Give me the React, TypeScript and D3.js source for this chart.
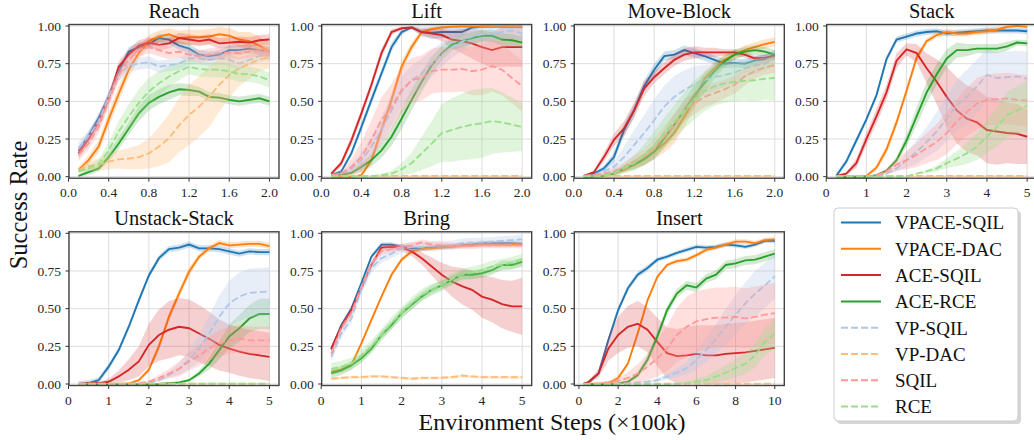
import * as d3 from 'd3';
import React from 'react';

// methods, in legend order
const methods = ['VPACE-SQIL', 'VPACE-DAC', 'ACE-SQIL', 'ACE-RCE', 'VP-SQIL', 'VP-DAC', 'SQIL', 'RCE'];
const lineColors = ['#1f77b4', '#ff7f0e', '#d62728', '#2ca02c', '#aec7e8', '#ffbb78', '#ff9896', '#98df8a'];
const dashed = [false, false, false, false, true, true, true, true];

// env steps (x100k)
const stepsShort = [0.1, 0.2, 0.3, 0.4, 0.5, 0.6, 0.7, 0.8, 0.9, 1.0, 1.1, 1.2, 1.3, 1.4, 1.5, 1.6, 1.7, 1.8, 1.9, 2.0];
const stepsMid = [0.25, 0.5, 0.75, 1, 1.25, 1.5, 1.75, 2, 2.25, 2.5, 2.75, 3, 3.25, 3.5, 3.75, 4, 4.25, 4.5, 4.75, 5];
const stepsLong = [0.25, 0.5, 1, 1.5, 2, 2.5, 3, 3.5, 4, 4.5, 5, 5.5, 6, 6.5, 7, 7.5, 8, 8.5, 9, 9.5, 10];

// mean success rate, one row per method
const reachMean = [
  [0.17, 0.27, 0.39, 0.53, 0.70, 0.83, 0.86, 0.88, 0.92, 0.91, 0.87, 0.85, 0.81, 0.80, 0.81, 0.84, 0.84, 0.85, 0.84, 0.83],
  [0.045, 0.11, 0.20, 0.38, 0.55, 0.71, 0.82, 0.90, 0.93, 0.945, 0.92, 0.925, 0.925, 0.93, 0.945, 0.935, 0.91, 0.90, 0.87, 0.83],
  [0.155, 0.25, 0.365, 0.52, 0.73, 0.81, 0.87, 0.89, 0.875, 0.885, 0.92, 0.91, 0.90, 0.91, 0.885, 0.89, 0.895, 0.89, 0.905, 0.91],
  [0.005, 0.03, 0.055, 0.13, 0.22, 0.32, 0.42, 0.49, 0.53, 0.56, 0.58, 0.575, 0.565, 0.53, 0.525, 0.51, 0.50, 0.51, 0.52, 0.50],
  [0.19, 0.27, 0.365, 0.53, 0.675, 0.74, 0.75, 0.76, 0.73, 0.74, 0.75, 0.785, 0.785, 0.775, 0.785, 0.775, 0.75, 0.775, 0.80, 0.81],
  [0.045, 0.07, 0.08, 0.10, 0.115, 0.12, 0.13, 0.155, 0.20, 0.255, 0.34, 0.41, 0.465, 0.53, 0.61, 0.675, 0.72, 0.75, 0.78, 0.79],
  [0.145, 0.22, 0.33, 0.50, 0.675, 0.775, 0.84, 0.86, 0.84, 0.82, 0.83, 0.81, 0.80, 0.81, 0.82, 0.825, 0.82, 0.83, 0.84, 0.83],
  [0.035, 0.055, 0.085, 0.175, 0.30, 0.40, 0.49, 0.565, 0.62, 0.665, 0.70, 0.73, 0.715, 0.71, 0.71, 0.70, 0.68, 0.68, 0.665, 0.64],
];
const reachSpread = [
  0.03,
  [0.02, 0.03, 0.04, 0.05, 0.05, 0.05, 0.04, 0.04, 0.04, 0.04, 0.05, 0.05, 0.05, 0.05, 0.05, 0.05, 0.05, 0.06, 0.06, 0.06],
  0.035,
  [0.01, 0.02, 0.02, 0.03, 0.04, 0.04, 0.05, 0.05, 0.05, 0.05, 0.04, 0.04, 0.03, 0.03, 0.03, 0.03, 0.03, 0.03, 0.03, 0.03],
  0.04,
  [0.02, 0.03, 0.04, 0.05, 0.06, 0.07, 0.08, 0.1, 0.13, 0.16, 0.18, 0.2, 0.2, 0.2, 0.18, 0.15, 0.12, 0.1, 0.08, 0.07],
  0.04,
  [0.01, 0.02, 0.03, 0.05, 0.07, 0.08, 0.09, 0.09, 0.08, 0.07, 0.06, 0.05, 0.05, 0.05, 0.05, 0.05, 0.05, 0.05, 0.05, 0.05],
];

const liftMean = [
  [0.01, 0.035, 0.155, 0.33, 0.51, 0.685, 0.86, 0.96, 0.99, 0.96, 0.955, 0.96, 0.96, 0.96, 0.99, 0.995, 0.995, 0.995, 0.995, 0.995],
  [0, 0, 0, 0.01, 0.11, 0.31, 0.51, 0.73, 0.86, 0.96, 0.98, 0.99, 0.995, 0.997, 0.997, 0.997, 0.997, 0.997, 0.997, 0.997],
  [0.02, 0.09, 0.24, 0.42, 0.61, 0.82, 0.96, 0.985, 0.99, 0.96, 0.95, 0.94, 0.91, 0.90, 0.885, 0.86, 0.84, 0.86, 0.86, 0.86],
  [0.01, 0.015, 0.025, 0.065, 0.11, 0.175, 0.265, 0.385, 0.51, 0.63, 0.74, 0.82, 0.875, 0.90, 0.92, 0.935, 0.935, 0.91, 0.905, 0.89],
  [0.005, 0.02, 0.055, 0.11, 0.20, 0.31, 0.44, 0.565, 0.64, 0.685, 0.75, 0.81, 0.86, 0.895, 0.93, 0.945, 0.95, 0.96, 0.97, 0.95],
  [0.005, 0.005, 0.005, 0.005, 0.005, 0.005, 0.005, 0.005, 0.005, 0.005, 0.005, 0.005, 0.005, 0.005, 0.005, 0.005, 0.005, 0.005, 0.005, 0.005],
  [0.01, 0.02, 0.065, 0.13, 0.245, 0.375, 0.465, 0.575, 0.64, 0.655, 0.70, 0.71, 0.71, 0.715, 0.70, 0.71, 0.735, 0.71, 0.655, 0.60],
  [0, 0, 0, 0, 0.003, 0.01, 0.02, 0.05, 0.09, 0.155, 0.22, 0.29, 0.31, 0.33, 0.345, 0.355, 0.37, 0.36, 0.345, 0.33],
];
const liftSpread = [
  [0.01, 0.01, 0.02, 0.03, 0.03, 0.03, 0.03, 0.02, 0.01, 0.03, 0.04, 0.04, 0.04, 0.03, 0.01, 0.01, 0.01, 0.01, 0.01, 0.01],
  [0, 0, 0.005, 0.01, 0.03, 0.04, 0.04, 0.04, 0.03, 0.02, 0.01, 0.01, 0.005, 0.005, 0.005, 0.005, 0.005, 0.005, 0.005, 0.005],
  [0.01, 0.02, 0.03, 0.03, 0.03, 0.03, 0.02, 0.01, 0.01, 0.02, 0.03, 0.04, 0.06, 0.08, 0.1, 0.11, 0.12, 0.13, 0.13, 0.13],
  [0.005, 0.01, 0.02, 0.03, 0.04, 0.05, 0.06, 0.07, 0.07, 0.07, 0.06, 0.05, 0.04, 0.04, 0.04, 0.04, 0.04, 0.04, 0.04, 0.04],
  [0.005, 0.01, 0.03, 0.05, 0.07, 0.09, 0.1, 0.1, 0.1, 0.1, 0.09, 0.08, 0.07, 0.06, 0.05, 0.05, 0.05, 0.05, 0.05, 0.05],
  0.005,
  [0.01, 0.02, 0.05, 0.1, 0.13, 0.15, 0.15, 0.15, 0.15, 0.15, 0.15, 0.15, 0.15, 0.15, 0.16, 0.17, 0.17, 0.17, 0.17, 0.17],
  [0, 0, 0, 0, 0.005, 0.01, 0.02, 0.04, 0.07, 0.11, 0.15, 0.19, 0.21, 0.22, 0.23, 0.23, 0.22, 0.2, 0.18, 0.16],
];

const moveMean = [
  [0.005, 0.02, 0.055, 0.13, 0.31, 0.44, 0.60, 0.71, 0.80, 0.81, 0.84, 0.82, 0.80, 0.775, 0.75, 0.755, 0.75, 0.77, 0.78, 0.81],
  [0, 0.003, 0.005, 0.02, 0.045, 0.08, 0.12, 0.165, 0.22, 0.29, 0.40, 0.51, 0.65, 0.72, 0.775, 0.81, 0.84, 0.86, 0.88, 0.895],
  [0.005, 0.03, 0.13, 0.245, 0.32, 0.44, 0.585, 0.66, 0.72, 0.775, 0.81, 0.825, 0.825, 0.825, 0.825, 0.825, 0.81, 0.785, 0.79, 0.80],
  [0, 0.003, 0.005, 0.02, 0.055, 0.08, 0.115, 0.165, 0.255, 0.345, 0.44, 0.54, 0.62, 0.70, 0.765, 0.81, 0.83, 0.84, 0.83, 0.81],
  [0.005, 0.01, 0.035, 0.065, 0.13, 0.21, 0.29, 0.375, 0.465, 0.53, 0.575, 0.615, 0.64, 0.66, 0.675, 0.69, 0.72, 0.735, 0.75, 0.785],
  [0.005, 0.005, 0.005, 0.005, 0.005, 0.005, 0.005, 0.005, 0.005, 0.005, 0.005, 0.005, 0.005, 0.005, 0.005, 0.005, 0.005, 0.005, 0.005, 0.005],
  [0.005, 0.01, 0.02, 0.035, 0.065, 0.10, 0.13, 0.19, 0.265, 0.345, 0.44, 0.485, 0.53, 0.555, 0.58, 0.61, 0.665, 0.70, 0.725, 0.74],
  [0, 0.003, 0.01, 0.02, 0.055, 0.09, 0.145, 0.21, 0.29, 0.365, 0.44, 0.51, 0.565, 0.60, 0.62, 0.63, 0.635, 0.64, 0.65, 0.655],
];
const moveSpread = [
  [0.005, 0.01, 0.02, 0.03, 0.04, 0.04, 0.04, 0.04, 0.03, 0.03, 0.03, 0.03, 0.03, 0.03, 0.03, 0.03, 0.03, 0.03, 0.03, 0.03],
  [0, 0.005, 0.01, 0.01, 0.02, 0.03, 0.04, 0.05, 0.06, 0.07, 0.07, 0.06, 0.05, 0.04, 0.04, 0.03, 0.03, 0.03, 0.03, 0.03],
  [0.005, 0.01, 0.03, 0.04, 0.05, 0.05, 0.05, 0.04, 0.04, 0.04, 0.04, 0.04, 0.03, 0.03, 0.02, 0.02, 0.02, 0.02, 0.02, 0.02],
  [0, 0.005, 0.005, 0.01, 0.02, 0.03, 0.04, 0.05, 0.06, 0.07, 0.07, 0.07, 0.06, 0.05, 0.04, 0.03, 0.03, 0.03, 0.03, 0.03],
  [0.005, 0.01, 0.02, 0.04, 0.07, 0.1, 0.12, 0.14, 0.14, 0.14, 0.13, 0.12, 0.1, 0.09, 0.08, 0.07, 0.06, 0.05, 0.05, 0.05],
  0.005,
  [0.005, 0.01, 0.01, 0.02, 0.03, 0.04, 0.05, 0.06, 0.07, 0.07, 0.07, 0.07, 0.07, 0.07, 0.06, 0.06, 0.06, 0.05, 0.05, 0.05],
  [0, 0.005, 0.01, 0.02, 0.03, 0.05, 0.07, 0.09, 0.1, 0.11, 0.12, 0.13, 0.13, 0.13, 0.13, 0.13, 0.13, 0.14, 0.14, 0.15],
];

const stackMean = [
  [0.005, 0.10, 0.24, 0.38, 0.54, 0.78, 0.91, 0.93, 0.95, 0.96, 0.965, 0.95, 0.955, 0.96, 0.965, 0.97, 0.97, 0.97, 0.97, 0.965],
  [0, 0, 0, 0.005, 0.06, 0.18, 0.36, 0.57, 0.79, 0.90, 0.94, 0.96, 0.95, 0.95, 0.96, 0.965, 0.975, 0.995, 1.0, 0.995],
  [0.005, 0.02, 0.09, 0.25, 0.40, 0.56, 0.77, 0.845, 0.82, 0.72, 0.63, 0.53, 0.44, 0.385, 0.36, 0.31, 0.30, 0.29, 0.285, 0.265],
  [0, 0, 0, 0, 0.01, 0.04, 0.11, 0.24, 0.40, 0.56, 0.68, 0.785, 0.84, 0.84, 0.85, 0.85, 0.85, 0.865, 0.89, 0.885],
  [0, 0, 0, 0, 0.005, 0.02, 0.055, 0.11, 0.165, 0.23, 0.30, 0.385, 0.475, 0.53, 0.60, 0.675, 0.655, 0.66, 0.665, 0.65],
  [0.005, 0.005, 0.005, 0.005, 0.005, 0.005, 0.005, 0.005, 0.005, 0.005, 0.005, 0.005, 0.005, 0.005, 0.005, 0.005, 0.005, 0.005, 0.005, 0.005],
  [0, 0, 0, 0, 0.01, 0.035, 0.08, 0.11, 0.145, 0.19, 0.23, 0.29, 0.365, 0.43, 0.485, 0.51, 0.515, 0.52, 0.51, 0.505],
  [0, 0, 0, 0, 0, 0, 0, 0.003, 0.02, 0.035, 0.055, 0.09, 0.12, 0.155, 0.20, 0.265, 0.33, 0.41, 0.44, 0.47],
];
const stackSpread = [
  0.02,
  [0, 0, 0, 0.005, 0.02, 0.03, 0.03, 0.03, 0.03, 0.02, 0.02, 0.02, 0.02, 0.02, 0.02, 0.02, 0.02, 0.01, 0.005, 0.005],
  [0.005, 0.01, 0.03, 0.04, 0.05, 0.05, 0.05, 0.04, 0.06, 0.1, 0.15, 0.2, 0.22, 0.22, 0.22, 0.22, 0.22, 0.2, 0.2, 0.18],
  [0, 0, 0, 0, 0.005, 0.01, 0.02, 0.04, 0.06, 0.07, 0.07, 0.06, 0.05, 0.04, 0.03, 0.03, 0.03, 0.03, 0.02, 0.02],
  [0, 0, 0, 0, 0, 0.005, 0.02, 0.05, 0.08, 0.1, 0.13, 0.15, 0.17, 0.18, 0.18, 0.17, 0.17, 0.17, 0.17, 0.18],
  0.005,
  [0, 0, 0, 0, 0.005, 0.02, 0.04, 0.06, 0.08, 0.1, 0.12, 0.14, 0.15, 0.16, 0.17, 0.17, 0.17, 0.17, 0.17, 0.17],
  [0, 0, 0, 0, 0, 0, 0, 0, 0.005, 0.01, 0.02, 0.03, 0.05, 0.07, 0.09, 0.11, 0.13, 0.15, 0.16, 0.17],
];

const unstackMean = [
  [0, 0.005, 0.025, 0.115, 0.225, 0.38, 0.555, 0.72, 0.835, 0.895, 0.905, 0.925, 0.90, 0.90, 0.895, 0.88, 0.865, 0.88, 0.875, 0.875],
  [0, 0, 0, 0, 0, 0.003, 0.025, 0.095, 0.25, 0.445, 0.60, 0.745, 0.845, 0.90, 0.935, 0.92, 0.925, 0.93, 0.93, 0.915],
  [0, 0.005, 0.005, 0.015, 0.05, 0.095, 0.15, 0.26, 0.325, 0.36, 0.38, 0.37, 0.335, 0.30, 0.26, 0.235, 0.215, 0.20, 0.19, 0.18],
  [0, 0, 0, 0, 0, 0, 0, 0, 0, 0.005, 0.01, 0.025, 0.07, 0.135, 0.225, 0.315, 0.37, 0.435, 0.465, 0.465],
  [0, 0, 0, 0, 0, 0, 0.003, 0.01, 0.025, 0.06, 0.10, 0.16, 0.235, 0.335, 0.445, 0.535, 0.58, 0.605, 0.61, 0.615],
  [0.003, 0.003, 0.003, 0.003, 0.003, 0.003, 0.003, 0.003, 0.003, 0.003, 0.003, 0.003, 0.003, 0.003, 0.003, 0.003, 0.003, 0.003, 0.003, 0.003],
  [0, 0, 0, 0, 0, 0, 0.005, 0.015, 0.04, 0.07, 0.10, 0.15, 0.19, 0.235, 0.27, 0.29, 0.30, 0.29, 0.29, 0.29],
  [0.003, 0.003, 0.003, 0.003, 0.003, 0.003, 0.003, 0.003, 0.003, 0.003, 0.003, 0.003, 0.003, 0.003, 0.003, 0.003, 0.003, 0.003, 0.003, 0.003],
];
const unstackSpread = [
  0.02,
  [0, 0, 0, 0, 0, 0.005, 0.01, 0.02, 0.03, 0.03, 0.03, 0.03, 0.02, 0.02, 0.02, 0.02, 0.02, 0.02, 0.02, 0.02],
  [0, 0.005, 0.01, 0.02, 0.04, 0.07, 0.1, 0.14, 0.17, 0.19, 0.19, 0.19, 0.19, 0.18, 0.17, 0.16, 0.16, 0.16, 0.16, 0.16],
  [0, 0, 0, 0, 0, 0, 0, 0, 0, 0.005, 0.005, 0.01, 0.02, 0.04, 0.06, 0.08, 0.09, 0.09, 0.1, 0.1],
  [0, 0, 0, 0, 0, 0, 0, 0.005, 0.01, 0.02, 0.04, 0.06, 0.09, 0.12, 0.14, 0.15, 0.16, 0.16, 0.16, 0.16],
  0.003,
  [0, 0, 0, 0, 0, 0, 0, 0.01, 0.02, 0.03, 0.05, 0.06, 0.07, 0.08, 0.09, 0.09, 0.09, 0.09, 0.09, 0.09],
  0.003,
];

const bringMean = [
  [0.23, 0.39, 0.50, 0.67, 0.845, 0.925, 0.925, 0.91, 0.90, 0.90, 0.905, 0.91, 0.915, 0.92, 0.925, 0.935, 0.935, 0.935, 0.935, 0.93],
  [0.08, 0.095, 0.125, 0.27, 0.425, 0.58, 0.725, 0.825, 0.88, 0.895, 0.90, 0.905, 0.91, 0.92, 0.92, 0.925, 0.925, 0.925, 0.925, 0.925],
  [0.235, 0.38, 0.49, 0.635, 0.79, 0.905, 0.91, 0.905, 0.88, 0.835, 0.78, 0.725, 0.68, 0.65, 0.625, 0.58, 0.56, 0.53, 0.515, 0.515],
  [0.07, 0.09, 0.125, 0.17, 0.235, 0.325, 0.39, 0.47, 0.525, 0.58, 0.625, 0.655, 0.69, 0.725, 0.725, 0.735, 0.755, 0.79, 0.79, 0.81],
  [0.18, 0.335, 0.435, 0.625, 0.77, 0.835, 0.865, 0.90, 0.91, 0.91, 0.915, 0.92, 0.92, 0.935, 0.94, 0.94, 0.945, 0.95, 0.955, 0.96],
  [0.035, 0.04, 0.045, 0.045, 0.05, 0.05, 0.045, 0.04, 0.035, 0.04, 0.04, 0.042, 0.045, 0.055, 0.05, 0.045, 0.045, 0.045, 0.045, 0.045],
  [0.20, 0.37, 0.47, 0.645, 0.80, 0.88, 0.895, 0.91, 0.92, 0.94, 0.925, 0.92, 0.915, 0.915, 0.915, 0.92, 0.92, 0.92, 0.92, 0.92],
  [0.10, 0.115, 0.135, 0.19, 0.25, 0.325, 0.405, 0.47, 0.535, 0.59, 0.625, 0.655, 0.695, 0.725, 0.74, 0.755, 0.78, 0.79, 0.805, 0.825],
];
const bringSpread = [
  0.015,
  0.015,
  [0.02, 0.02, 0.02, 0.02, 0.02, 0.02, 0.02, 0.02, 0.03, 0.04, 0.06, 0.08, 0.1, 0.12, 0.13, 0.14, 0.15, 0.16, 0.17, 0.19],
  0.03,
  0.03,
  0.01,
  0.02,
  0.04,
];

const insertMean = [
  [0.005, 0.01, 0.07, 0.29, 0.49, 0.635, 0.725, 0.77, 0.825, 0.845, 0.87, 0.89, 0.91, 0.905, 0.91, 0.925, 0.92, 0.91, 0.925, 0.95, 0.95],
  [0, 0, 0, 0.003, 0.04, 0.135, 0.335, 0.555, 0.71, 0.79, 0.815, 0.825, 0.855, 0.89, 0.905, 0.925, 0.945, 0.945, 0.935, 0.955, 0.96],
  [0, 0.015, 0.07, 0.235, 0.325, 0.38, 0.40, 0.36, 0.28, 0.205, 0.185, 0.19, 0.20, 0.19, 0.19, 0.20, 0.205, 0.21, 0.22, 0.23, 0.24],
  [0, 0, 0, 0, 0.003, 0.015, 0.06, 0.16, 0.315, 0.49, 0.60, 0.655, 0.64, 0.70, 0.725, 0.79, 0.80, 0.82, 0.825, 0.845, 0.865],
  [0, 0, 0, 0, 0.003, 0.005, 0.01, 0.015, 0.025, 0.05, 0.075, 0.105, 0.16, 0.225, 0.30, 0.38, 0.46, 0.535, 0.60, 0.655, 0.715],
  [0.002, 0.002, 0.002, 0.002, 0.002, 0.002, 0.002, 0.002, 0.002, 0.002, 0.002, 0.002, 0.002, 0.002, 0.002, 0.002, 0.002, 0.002, 0.002, 0.002, 0.002],
  [0, 0, 0.003, 0.01, 0.02, 0.04, 0.07, 0.115, 0.17, 0.235, 0.325, 0.38, 0.415, 0.43, 0.44, 0.44, 0.445, 0.435, 0.445, 0.46, 0.47],
  [0, 0, 0, 0, 0, 0, 0, 0, 0, 0, 0.002, 0.005, 0.015, 0.025, 0.05, 0.075, 0.105, 0.135, 0.19, 0.28, 0.335],
];
const insertSpread = [
  [0.005, 0.005, 0.01, 0.02, 0.02, 0.02, 0.02, 0.02, 0.015, 0.015, 0.015, 0.015, 0.015, 0.015, 0.015, 0.015, 0.015, 0.015, 0.015, 0.015, 0.015],
  0.015,
  [0, 0.01, 0.03, 0.08, 0.12, 0.14, 0.15, 0.15, 0.16, 0.17, 0.18, 0.19, 0.19, 0.2, 0.2, 0.2, 0.2, 0.2, 0.2, 0.2, 0.2],
  [0, 0, 0, 0, 0.005, 0.01, 0.02, 0.03, 0.03, 0.03, 0.03, 0.03, 0.03, 0.03, 0.03, 0.03, 0.03, 0.03, 0.03, 0.03, 0.03],
  [0, 0, 0, 0, 0, 0.005, 0.005, 0.01, 0.01, 0.02, 0.03, 0.04, 0.06, 0.08, 0.1, 0.12, 0.13, 0.14, 0.15, 0.15, 0.15],
  0.003,
  [0, 0, 0.005, 0.01, 0.02, 0.04, 0.06, 0.09, 0.12, 0.15, 0.18, 0.2, 0.2, 0.2, 0.2, 0.2, 0.2, 0.2, 0.2, 0.2, 0.2],
  [0, 0, 0, 0, 0, 0, 0, 0, 0, 0, 0.005, 0.01, 0.02, 0.03, 0.04, 0.05, 0.06, 0.07, 0.08, 0.09, 0.1],
];

const ticksShort = [0, 0.4, 0.8, 1.2, 1.6, 2.0];
const ticksMid = [0, 1, 2, 3, 4, 5];
const ticksLong = [0, 2, 4, 6, 8, 10];
const yTicks = [0, 0.25, 0.5, 0.75, 1.0];

const panels = [
  { title: 'Reach', col: 0, row: 0, steps: stepsShort, ticks: ticksShort, fmt: '.1f', mean: reachMean, spread: reachSpread },
  { title: 'Lift', col: 1, row: 0, steps: stepsShort, ticks: ticksShort, fmt: '.1f', mean: liftMean, spread: liftSpread },
  { title: 'Move-Block', col: 2, row: 0, steps: stepsShort, ticks: ticksShort, fmt: '.1f', mean: moveMean, spread: moveSpread },
  { title: 'Stack', col: 3, row: 0, steps: stepsMid, ticks: ticksMid, fmt: 'd', mean: stackMean, spread: stackSpread },
  { title: 'Unstack-Stack', col: 0, row: 1, steps: stepsMid, ticks: ticksMid, fmt: 'd', mean: unstackMean, spread: unstackSpread },
  { title: 'Bring', col: 1, row: 1, steps: stepsMid, ticks: ticksMid, fmt: 'd', mean: bringMean, spread: bringSpread },
  { title: 'Insert', col: 2, row: 1, steps: stepsLong, ticks: ticksLong, fmt: 'd', mean: insertMean, spread: insertSpread },
];

const serif = { fontFamily: "'Liberation Serif', 'DejaVu Serif', serif" };
const colLeft = [69, 321.7, 574.3, 826.7];
const rowOne = [26, 233.3]; // pixel of y = 1.0
const PW = 210;
const UNIT = 150.7;

const Panel = ({ p, idx }) => {
  const left = colLeft[p.col];
  const top = rowOne[p.row] - 0.01 * UNIT;
  const ph = 1.02 * UNIT;
  const lo = p.steps[0], hi = p.steps[p.steps.length - 1];
  const pad = (hi - lo) * 0.05;
  const x = d3.scaleLinear().domain([lo - pad, hi + pad]).range([0, PW]);
  const y = d3.scaleLinear().domain([-0.01, 1.01]).range([ph, 0]);
  const fmt = d3.format(p.fmt);
  const clipId = 'clip' + idx;

  const line = d3.line().x((d) => x(d[0])).y((d) => y(d[1]));
  const area = d3.area().x((d) => x(d[0])).y0((d) => y(d[2])).y1((d) => y(d[3]));

  return (
    <g transform={`translate(${left},${top})`}>
      <defs>
        <clipPath id={clipId}><rect x={0} y={0} width={PW} height={ph} /></clipPath>
      </defs>
      <rect x={0} y={0} width={PW} height={ph} fill="#fff" />
      {p.ticks.map((t) => (
        <line key={'gx' + t} x1={x(t)} x2={x(t)} y1={0} y2={ph} stroke="#dcdcdc" strokeWidth={1} />
      ))}
      {yTicks.map((t) => (
        <line key={'gy' + t} x1={0} x2={PW} y1={y(t)} y2={y(t)} stroke="#dcdcdc" strokeWidth={1} />
      ))}
      <g clipPath={`url(#${clipId})`}>
        {p.mean.map((m, i) => {
          const s = p.spread[i];
          const pts = m.map((v, j) => {
            const w = typeof s === 'number' ? s : s[j];
            return [p.steps[j], v, Math.max(0, v - w), Math.min(1, v + w)];
          });
          return (
            <g key={methods[i]}>
              <path d={area(pts)} fill={lineColors[i]} fillOpacity={dashed[i] ? 0.3 : 0.22} stroke="none" />
              <path d={line(pts)} fill="none" stroke={lineColors[i]} strokeWidth={dashed[i] ? 1.8 : 1.9}
                strokeDasharray={dashed[i] ? '7,3' : null} />
            </g>
          );
        })}
      </g>
      <rect x={0} y={0} width={PW} height={ph} fill="none" stroke="#444" strokeWidth={1.4} />
      {p.ticks.map((t) => (
        <g key={'tx' + t} transform={`translate(${x(t)},${ph})`}>
          <line y1={0} y2={3.5} stroke="#333" strokeWidth={1} />
          <text y={19} textAnchor="middle" fontSize={13.5} style={serif} fill="#262626">{fmt(t)}</text>
        </g>
      ))}
      {yTicks.map((t) => (
        <g key={'ty' + t} transform={`translate(0,${y(t)})`}>
          <line x1={-3.5} x2={0} stroke="#333" strokeWidth={1} />
          <text x={-8} dy="0.35em" textAnchor="end" fontSize={13.5} style={serif} fill="#262626">{t.toFixed(2)}</text>
        </g>
      ))}
      <text x={PW / 2} y={-6.5} textAnchor="middle" fontSize={20.5} style={serif} fill="#111">{p.title}</text>
    </g>
  );
};

const Legend = () => {
  const y0 = 222.5, step = 26.3;
  return (
    <g>
      <rect x={837} y={211} width={184} height={213} rx={4} fill="#bbb" opacity={0.6} />
      <rect x={834} y={208} width={184} height={213} rx={4} fill="#fff" stroke="#ccc" strokeWidth={1} />
      {methods.map((m, i) => (
        <g key={m} transform={`translate(0,${y0 + i * step})`}>
          <line x1={841} x2={881} stroke={lineColors[i]} strokeWidth={2} strokeDasharray={dashed[i] ? '7,3' : null} />
          <text x={895} y={6.8} fontSize={19} style={serif} fill="#111">{m}</text>
        </g>
      ))}
    </g>
  );
};

export default function App() {
  return (
    <div style={{ position: 'absolute', left: 0, top: 0 }}>
      <svg width={1034} height={440} style={{ display: 'block', background: '#fff' }}>
        {panels.map((p, i) => <Panel key={p.title} p={p} idx={i} />)}
        <Legend />
        <text x={552} y={430} textAnchor="middle" fontSize={24} style={serif} fill="#111">
          Environment Steps (×100k)
        </text>
        <text transform="translate(27,205) rotate(-90)" textAnchor="middle" fontSize={24.5} style={serif} fill="#111">
          Success Rate
        </text>
      </svg>
    </div>
  );
}
